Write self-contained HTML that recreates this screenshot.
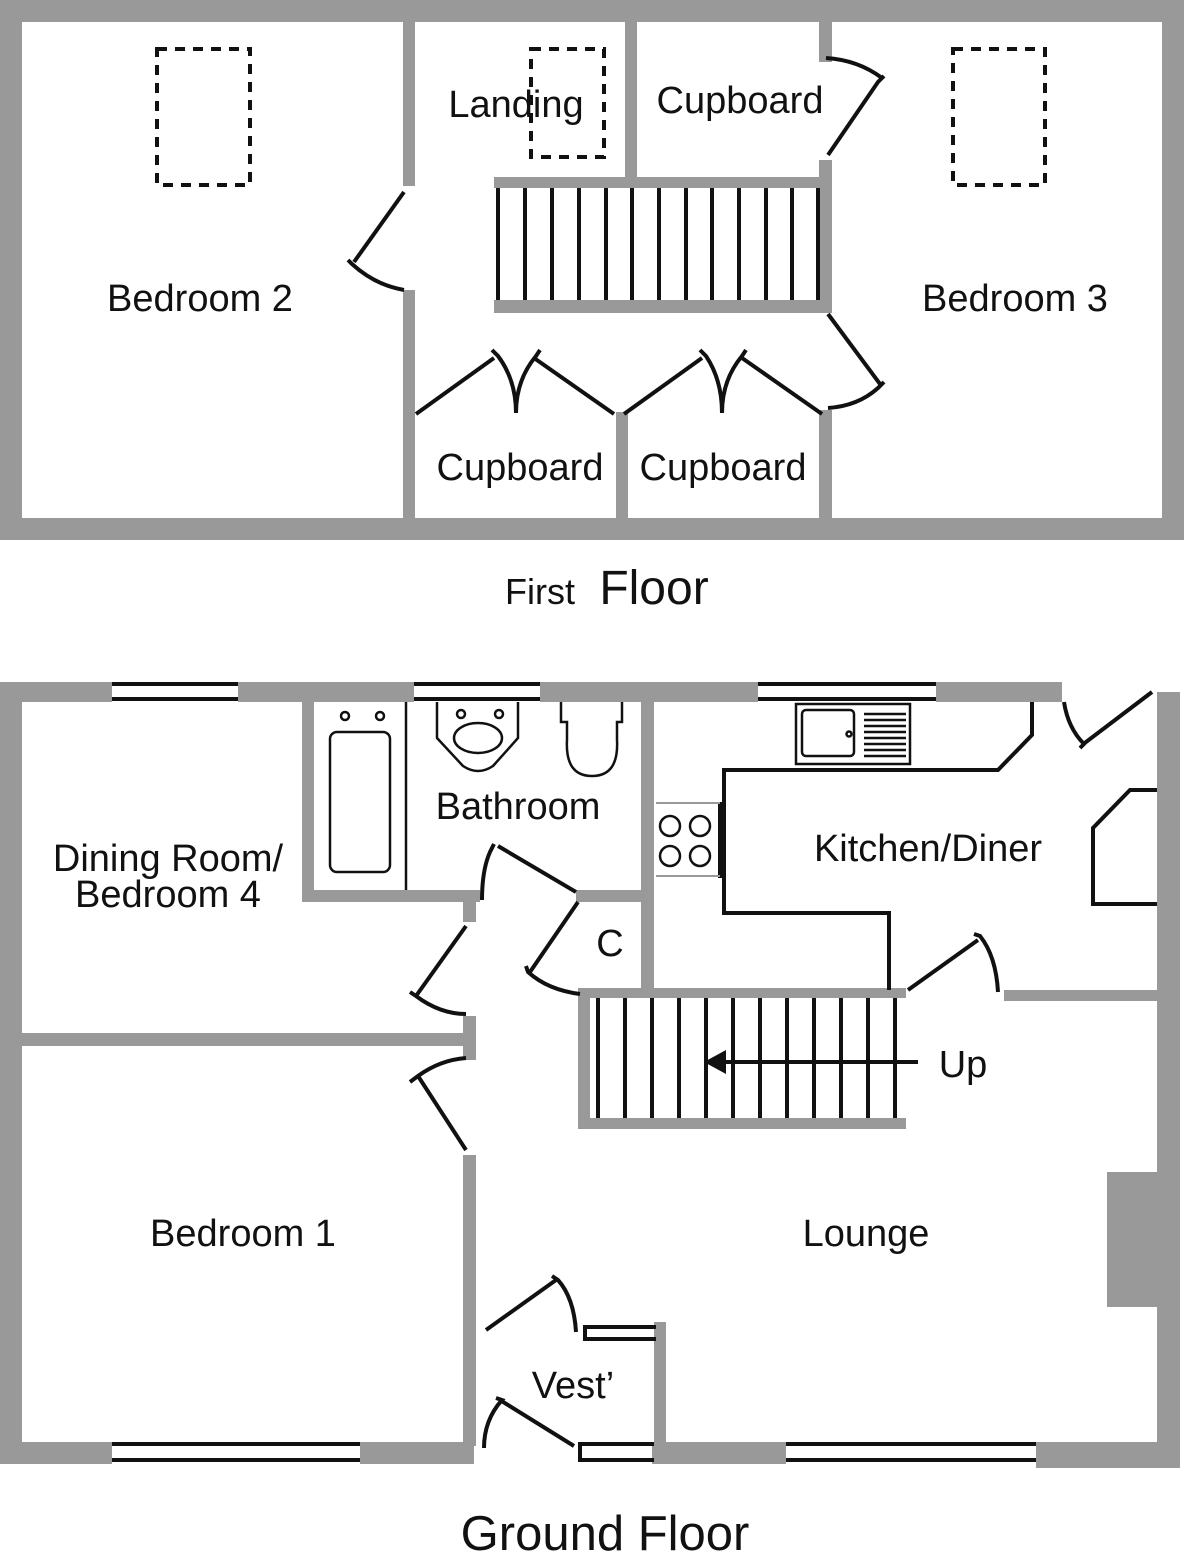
<!DOCTYPE html>
<html><head><meta charset="utf-8"><style>
html,body{margin:0;padding:0;background:#fff}
svg{display:block}
text{font-family:"Liberation Sans","DejaVu Sans",sans-serif;fill:#111}
</style></head><body>
<svg width="1184" height="1554" viewBox="0 0 1184 1554" xmlns="http://www.w3.org/2000/svg">
<g fill="#999" stroke="none">
<rect x="0" y="0" width="1184" height="22"/>
<rect x="0" y="518" width="1184" height="22"/>
<rect x="0" y="0" width="22" height="540"/>
<rect x="1162" y="0" width="22" height="540"/>
<rect x="403" y="22" width="12" height="164"/>
<rect x="403" y="290" width="12" height="228"/>
<rect x="616" y="412" width="12" height="106"/>
<rect x="625" y="22" width="12" height="155"/>
<rect x="819" y="22" width="13" height="40"/>
<rect x="819" y="160" width="13" height="152"/>
<rect x="819" y="410" width="13" height="108"/>
<rect x="494" y="177" width="338" height="11"/>
<rect x="494" y="300" width="338" height="13"/>
<rect x="0" y="682" width="112" height="20"/>
<rect x="238" y="682" width="176" height="20"/>
<rect x="540" y="682" width="218" height="20"/>
<rect x="936" y="682" width="126" height="20"/>
<rect x="0" y="682" width="22" height="782"/>
<rect x="1157" y="692" width="23" height="772"/>
<rect x="0" y="1442" width="112" height="22"/>
<rect x="360" y="1442" width="114" height="22"/>
<rect x="652" y="1442" width="134" height="22"/>
<rect x="1036" y="1442" width="144" height="26"/>
<rect x="302" y="702" width="12" height="198"/>
<rect x="302" y="890" width="178" height="12"/>
<rect x="463" y="900" width="13" height="22"/>
<rect x="641" y="702" width="13" height="290"/>
<rect x="576" y="890" width="78" height="12"/>
<rect x="578" y="988" width="328" height="10"/>
<rect x="578" y="1118" width="328" height="11"/>
<rect x="578" y="988" width="12" height="141"/>
<rect x="1004" y="990" width="153" height="11"/>
<rect x="22" y="1033" width="450" height="13"/>
<rect x="463" y="1016" width="13" height="44"/>
<rect x="463" y="1155" width="13" height="291"/>
<rect x="654" y="1322" width="12" height="124"/>
<rect x="1107" y="1172" width="50" height="135"/>
</g>
<g fill="none" stroke="#111" stroke-width="4">
<rect x="157" y="49" width="93" height="136" stroke-dasharray="10,8"/>
<rect x="531" y="49" width="73" height="108" stroke-dasharray="10,8"/>
<rect x="953" y="49" width="92" height="136" stroke-dasharray="10,8"/>
<path d="M498 188V300M525 188V300M552 188V300M579 188V300M606 188V300M632 188V300M659 188V300M686 188V300M712 188V300M739 188V300M766 188V300M792 188V300M818 188V300"/>
<path d="M404 192L354 262M348 260L352 264Q375 285 404 290"/>
<path d="M826 58Q858 60 882 78M884 76L878 82L828 155"/>
<path d="M828 314L880 384M884 382L878 388Q858 406 828 408"/>
<path d="M416 414L494 358M492 350L498 356Q516 380 516 413Q516 380 536 356L540 350M534 358L614 414"/>
<path d="M624 414L702 358M700 350L706 356Q722 380 722 413Q722 380 742 356L746 350M742 358L822 414"/>
<path d="M112 684H238M112 699H238M414 684H540M414 699H540M758 684H936M758 699H936M112 1444H360M112 1460H360M786 1444H1036M786 1460H1036"/>
<path d="M654 1444H580V1460H654M656 1327H585V1339H656"/>
<path d="M598 998V1118M625 998V1118M652 998V1118M679 998V1118M706 998V1118M733 998V1118M760 998V1118M787 998V1118M814 998V1118M841 998V1118M868 998V1118M895 998V1118"/>
<path d="M918 1062H720"/>
<path d="M1032 702V735L998 770H724V913H889V990"/>
<path d="M1157 790H1130L1093 828V904H1157"/>
<path d="M720 802V878"/>
<path d="M1064 702Q1068 728 1084 744M1080 748L1086 742L1152 692"/>
<path d="M908 990L978 940M974 934L980 936Q996 956 998 992"/>
<path d="M576 892L498 846M494 844L490 852Q482 870 482 900"/>
<path d="M578 902L530 972M526 966L528 972Q548 990 580 994"/>
<path d="M466 926L416 996M410 992L416 996Q440 1014 466 1014"/>
<path d="M466 1150L418 1076M410 1082L418 1076Q440 1060 466 1058"/>
<path d="M486 1330L556 1280M552 1276L558 1280Q574 1298 576 1332"/>
<path d="M574 1446L500 1400M496 1398L502 1400Q484 1420 484 1448"/>
</g>
<g fill="none" stroke="#111" stroke-width="2.5">
<path d="M406 702V890"/>
<rect x="330" y="732" width="60" height="140" rx="7"/>
<circle cx="345" cy="716" r="4"/><circle cx="380" cy="716" r="4"/>
<path d="M437 702V738L463 766Q478 776 493 766L518 738V702"/>
<ellipse cx="478" cy="738" rx="24" ry="15"/>
<circle cx="461" cy="714" r="4"/><circle cx="499" cy="714" r="4"/>
<path d="M561 702V722H567V740Q565 776 592 776Q619 776 617 740V722H622V702"/>
<rect x="796" y="704" width="114" height="60"/>
<rect x="802" y="710" width="52" height="46" rx="4"/>
<circle cx="849" cy="734" r="2.5"/>
<path d="M864 714H906M864 720H906M864 726H906M864 732H906M864 738H906M864 744H906M864 750H906M864 756H906"/>
<circle cx="670" cy="826" r="10"/><circle cx="700" cy="826" r="10"/>
<circle cx="670" cy="856" r="10"/><circle cx="700" cy="856" r="10"/>
</g>
<path d="M656 803H720M656 876H720" stroke="#999" stroke-width="2"/>
<path d="M704 1062L726 1050V1074Z" fill="#111"/>
<g font-size="38" text-anchor="middle">
<text x="200" y="311">Bedroom 2</text>
<text x="1015" y="311">Bedroom 3</text>
<text x="516" y="117">Landing</text>
<text x="740" y="113">Cupboard</text>
<text x="520" y="480">Cupboard</text>
<text x="723" y="480">Cupboard</text>
<text x="518" y="819">Bathroom</text>
<text x="168" y="871">Dining Room/</text>
<text x="168" y="907">Bedroom 4</text>
<text x="928" y="861">Kitchen/Diner</text>
<text x="610" y="956">C</text>
<text x="963" y="1077">Up</text>
<text x="243" y="1246">Bedroom 1</text>
<text x="866" y="1246">Lounge</text>
<text x="573" y="1398">Vest’</text>
</g>
<text x="540" y="604" font-size="36" text-anchor="middle">First</text>
<text x="654" y="604" font-size="48" text-anchor="middle">Floor</text>
<text x="605" y="1550" font-size="49" text-anchor="middle">Ground Floor</text>
</svg>
</body></html>
